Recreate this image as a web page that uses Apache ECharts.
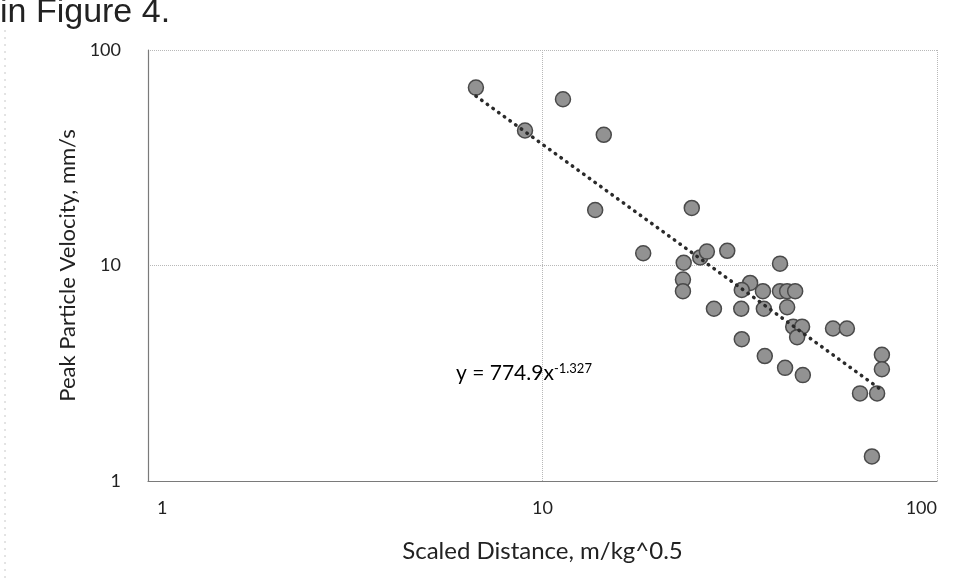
<!DOCTYPE html>
<html>
<head>
<meta charset="utf-8">
<script src="https://cdn.jsdelivr.net/npm/echarts@6/dist/echarts.min.js"></script>
<style>
  html, body { margin: 0; padding: 0; background: #ffffff; }
  #chart { width: 976px; height: 583px; }
</style>
</head>
<body>
<div id="chart"></div>
<script>
// Scaled distance (m/kg^0.5)
const scaledDistance = [6.78, 9.03, 11.27, 14.3, 13.6, 18.0, 23.9, 22.8, 25.1, 26.1, 29.4, 22.7, 22.7, 40.0, 33.6, 32.0, 36.2, 40.0, 41.7, 43.7, 27.2, 31.9, 36.4, 41.7, 43.2, 45.5, 44.2, 54.5, 59.1, 32.0, 36.6, 41.2, 45.7, 72.5, 72.5, 63.8, 70.5, 68.4];
// Peak particle velocity (mm/s)
const peakVelocity = [66.9, 42.3, 59.1, 40.4, 18.1, 11.4, 18.5, 10.3, 10.9, 11.6, 11.7, 8.6, 7.6, 10.2, 8.3, 7.7, 7.6, 7.6, 7.6, 7.6, 6.3, 6.3, 6.3, 6.4, 5.2, 5.2, 4.65, 5.1, 5.1, 4.55, 3.8, 3.35, 3.1, 3.85, 3.3, 2.55, 2.55, 1.3];
// Power trendline y = a * x^b
const trendA = 774.9;
const trendB = -1.327;
const xTickLabels = ['1', '10', '100'];
const yTickLabels = ['1', '10', '100'];

const points = scaledDistance.map((x, i) => [x, peakVelocity[i]]);
const xMin = Math.min(...scaledDistance), xMax = Math.max(...scaledDistance);
const trend = [xMin, xMax].map(x => [x, trendA * Math.pow(x, trendB)]);

const chart = echarts.init(document.getElementById('chart'), null, { renderer: 'canvas' });
const font = 'Lato, "Open Sans", sans-serif';
chart.setOption({
  animation: false,
  backgroundColor: '#ffffff',
  grid: { left: 148, right: 39, top: 50, bottom: 102, containLabel: false },
  xAxis: {
    type: 'log', logBase: 10, min: 1, max: 100,
    name: 'Scaled Distance, m/kg^0.5',
    nameLocation: 'middle', nameGap: 58,
    nameTextStyle: { fontFamily: font, fontSize: 24, color: '#222' },
    axisLine: { show: true, lineStyle: { color: '#7a7a7a', width: 1.2 } },
    axisTick: { show: false },
    splitLine: { show: true, lineStyle: { color: '#b8b8b8', type: 'dotted', width: 1 } },
    axisLabel: {
      fontFamily: font, fontSize: 18, color: '#222', margin: 18,
      alignMinLabel: 'left', alignMaxLabel: 'right',
      formatter: v => {
        const i = Math.round(Math.log10(v));
        const t = xTickLabels[i] || '';
        return i === 0 ? '{first|' + t + '}' : t;
      },
      rich: { first: { fontFamily: font, fontSize: 18, color: '#222', padding: [0, 0, 0, 9] } }
    }
  },
  yAxis: {
    type: 'log', logBase: 10, min: 1, max: 100,
    name: 'Peak Particle Velocity, mm/s',
    nameLocation: 'middle', nameGap: 62,
    nameTextStyle: { fontFamily: font, fontSize: 22, color: '#222' },
    axisLine: { show: true, lineStyle: { color: '#7a7a7a', width: 1.2 } },
    axisTick: { show: false },
    splitLine: { show: true, lineStyle: { color: '#b8b8b8', type: 'dotted', width: 1 } },
    axisLabel: {
      fontFamily: font, fontSize: 18, color: '#222', margin: 27,
      formatter: v => yTickLabels[Math.round(Math.log10(v))] || ''
    }
  },
  series: [
    {
      type: 'line',
      data: trend,
      showSymbol: false,
      symbol: 'none',
      z: 3,
      lineStyle: { color: '#2a2a2a', width: 3.5, type: [0.5, 6.5], cap: 'round' }
    },
    {
      type: 'scatter',
      data: points,
      symbol: 'circle',
      symbolSize: 15,
      z: 2,
      itemStyle: { color: '#929292', borderColor: '#4a4a4a', borderWidth: 1.5, opacity: 1 }
    }
  ],
  graphic: [
    {
      type: 'line', silent: true,
      shape: { x1: 5, y1: 30, x2: 5, y2: 583 },
      style: { stroke: '#c8c8c8', lineWidth: 1, lineDash: [2, 5] }
    },
    {
      type: 'text', x: 0, y: 30,
      style: { text: 'in Figure 4.', font: '34px "Liberation Sans", Arial, sans-serif', fill: '#222', verticalAlign: 'bottom' }
    },
    {
      type: 'text', left: 456, top: 362,
      style: {
        text: '{b|y = 774.9x}{s|-1.327}',
        rich: {
          b: { fontFamily: font, fontSize: 21, color: '#222' },
          s: { fontFamily: font, fontSize: 13, color: '#222', verticalAlign: 'top', padding: [0, 0, 10, 0] }
        }
      }
    }
  ]
});
</script>
</body>
</html>
